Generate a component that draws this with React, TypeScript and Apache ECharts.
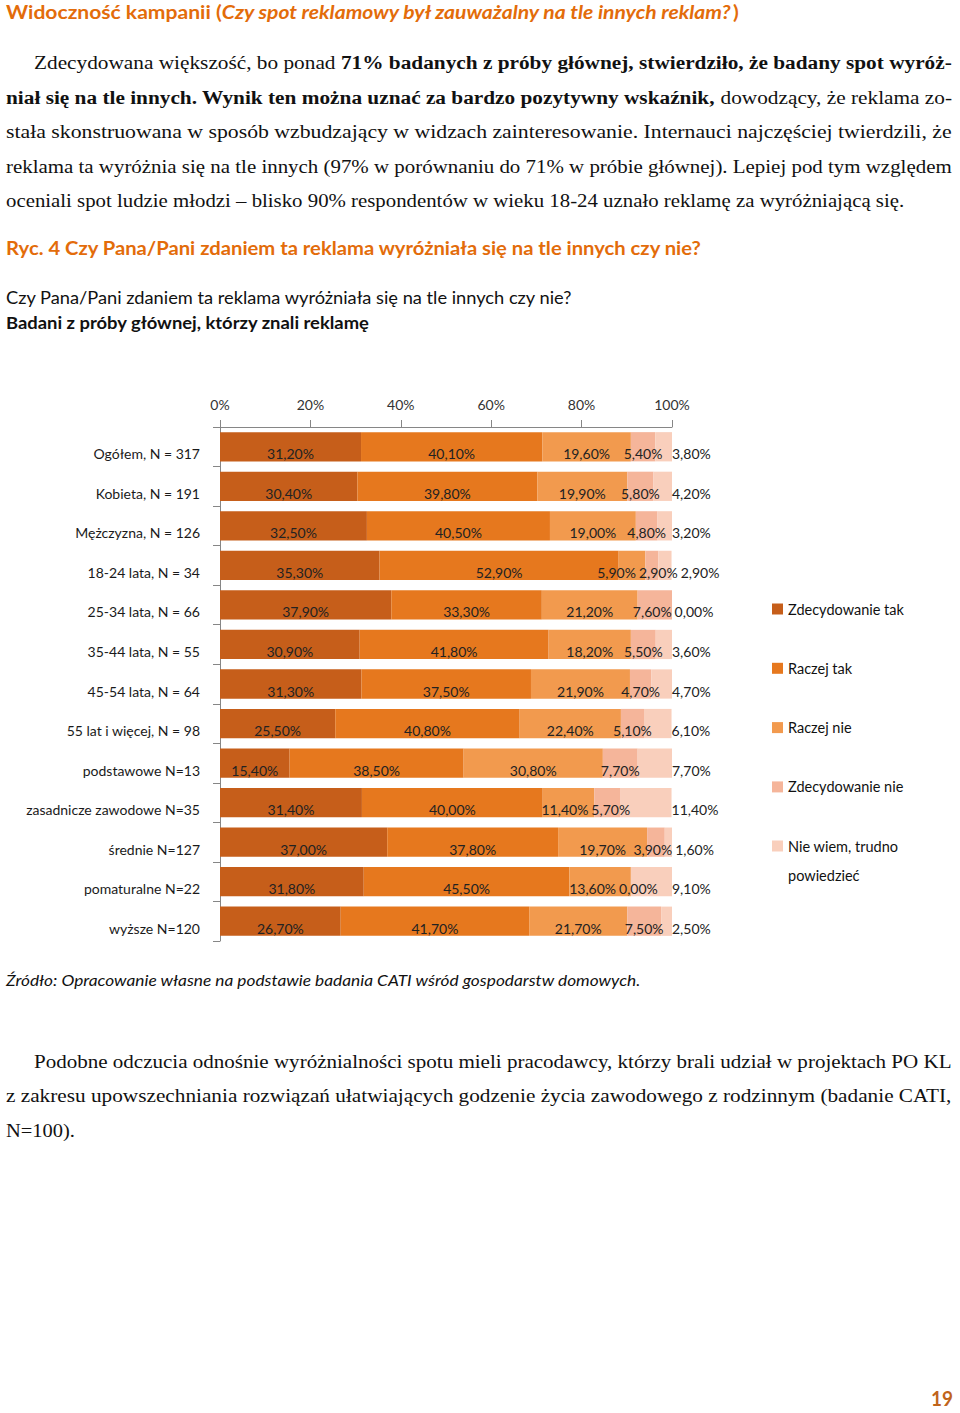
import React, { useEffect, useRef } from "react";
import * as echarts from "echarts";

// ---------- chart data ----------
const categories = [
  "Ogółem, N = 317",
  "Kobieta, N = 191",
  "Mężczyzna, N = 126",
  "18-24 lata, N = 34",
  "25-34 lata, N = 66",
  "35-44 lata, N = 55",
  "45-54 lata, N = 64",
  "55 lat i więcej, N = 98",
  "podstawowe N=13",
  "zasadnicze zawodowe N=35",
  "średnie N=127",
  "pomaturalne N=22",
  "wyższe N=120",
];
const seriesNames = [
  "Zdecydowanie tak",
  "Raczej tak",
  "Raczej nie",
  "Zdecydowanie nie",
  "Nie wiem, trudno powiedzieć",
];
const zdecydowanieTak = [31.2, 30.4, 32.5, 35.3, 37.9, 30.9, 31.3, 25.5, 15.4, 31.4, 37.0, 31.8, 26.7];
const raczejTak = [40.1, 39.8, 40.5, 52.9, 33.3, 41.8, 37.5, 40.8, 38.5, 40.0, 37.8, 45.5, 41.7];
const raczejNie = [19.6, 19.9, 19.0, 5.9, 21.2, 18.2, 21.9, 22.4, 30.8, 11.4, 19.7, 13.6, 21.7];
const zdecydowanieNie = [5.4, 5.8, 4.8, 2.9, 7.6, 5.5, 4.7, 5.1, 7.7, 5.7, 3.9, 0.0, 7.5];
const nieWiem = [3.8, 4.2, 3.2, 2.9, 0.0, 3.6, 4.7, 6.1, 7.7, 11.4, 1.6, 9.1, 2.5];
const seriesValues = [zdecydowanieTak, raczejTak, raczejNie, zdecydowanieNie, nieWiem];
const xTicks = [0, 20, 40, 60, 80, 100];

const colors = ["#C65E1A", "#E6781E", "#F29A4E", "#F5B59A", "#F9CFBC"];
const ORANGE = "#E36C0A";

// ---------- layout constants ----------
const GRID_LEFT = 220;
const GRID_TOP = 427;
const GRID_W = 452;
const GRID_H = 514;
const LABEL_DY = 7;

// ---------- text styles ----------
type Sty = { fontFamily: string; fontSize: number; fontWeight?: string; fontStyle?: string; fill: string };
const SERIF = '"Liberation Serif", serif';
const SANS = "Lato, sans-serif";
const STY: Record<string, Sty> = {
  n: { fontFamily: SERIF, fontSize: 19, fill: "#111" },
  b: { fontFamily: SERIF, fontSize: 19, fontWeight: "bold", fill: "#111" },
  tb: { fontFamily: SANS, fontSize: 18, fontWeight: "bold", fill: ORANGE },
  ti: { fontFamily: SANS, fontSize: 18, fontWeight: "bold", fontStyle: "italic", fill: ORANGE },
  q: { fontFamily: SANS, fontSize: 17, fill: "#111" },
  qb: { fontFamily: SANS, fontSize: 17, fontWeight: "bold", fill: "#111" },
  src: { fontFamily: SANS, fontSize: 16, fontStyle: "italic", fill: "#111" },
  pg: { fontFamily: SANS, fontSize: 20, fontWeight: "bold", fill: "#C0641B" },
  lbl: { fontFamily: SANS, fontSize: 14, fill: "#222" },
};

type Part = { t: string; s: string };
let ctx: CanvasRenderingContext2D | null = null;
function measure(parts: Part[]) {
  if (!ctx) ctx = document.createElement("canvas").getContext("2d");
  let w = 0;
  for (const p of parts) {
    const st = STY[p.s];
    ctx!.font = `${st.fontStyle || "normal"} ${st.fontWeight || "normal"} ${st.fontSize}px ${st.fontFamily}`;
    w += ctx!.measureText(p.t).width;
  }
  return w;
}

function textLine(x: number, y: number, right: number, parts: Part[]) {
  const natural = measure(parts);
  const target = right - x;
  const used = Array.from(new Set(parts.map((p) => p.s)));
  const rich: Record<string, any> = {};
  used.forEach((k) => (rich[k] = { ...STY[k] }));
  return {
    type: "text",
    x,
    y,
    scaleX: natural > 0 ? target / natural : 1,
    silent: true,
    style: {
      text: parts.map((p) => `{${p.s}|${p.t}}`).join(""),
      rich,
      fill: rich[used[0]].fill,
      align: "left",
      verticalAlign: "middle",
    },
  };
}

const fmt = (v: number) => v.toFixed(2).replace(".", ",") + "%";

// resolve overlapping data labels in each row (horizontal shifts in px)
function computeLabelShifts() {
  const px = GRID_W / 100;
  const GAP = 3;
  const shifts = seriesValues.map(() => categories.map(() => 0));
  categories.forEach((_, r) => {
    let cum = 0;
    const c: number[] = [];
    const w: number[] = [];
    const base: number[] = [];
    seriesValues.forEach((vals, i) => {
      const v = vals[r];
      const width = measure([{ t: fmt(v), s: "lbl" }]);
      const center =
        i < seriesValues.length - 1
          ? (cum + v / 2) * px
          : Math.min(cum + v, 100) * px + width / 2;
      cum += v;
      c.push(center);
      w.push(width);
      base.push(center);
    });
    for (let iter = 0; iter < 30; iter++) {
      for (let i = 0; i < c.length - 1; i++) {
        const o = c[i] + w[i] / 2 + GAP - (c[i + 1] - w[i + 1] / 2);
        if (o > 0) {
          c[i] -= o / 2;
          c[i + 1] += o / 2;
        }
      }
    }
    c.forEach((v, i) => (shifts[i][r] = v - base[i]));
  });
  return shifts;
}

export default function App() {
  const ref = useRef<HTMLDivElement>(null);
  useEffect(() => {
    if (!ref.current) return;
    const chart = echarts.init(ref.current, undefined, { renderer: "svg" });
    const shifts = computeLabelShifts();

    const graphic = [
      textLine(6, 12, 739, [
        { t: "Widoczność kampanii (", s: "tb" },
        { t: "Czy spot reklamowy był zauważalny na tle innych reklam?", s: "ti" },
        { t: ")", s: "tb" },
      ]),
      textLine(34, 62, 952, [
        { t: "Zdecydowana większość, bo ponad ", s: "n" },
        { t: "71% badanych z próby głównej, stwierdziło, że badany spot wyróż-", s: "b" },
      ]),
      textLine(6, 97, 952, [
        { t: "niał się na tle innych. Wynik ten można uznać za bardzo pozytywny wskaźnik,", s: "b" },
        { t: " dowodzący, że reklama zo-", s: "n" },
      ]),
      textLine(6, 131, 952, [
        { t: "stała skonstruowana w sposób wzbudzający w widzach zainteresowanie. Internauci najczęściej twierdzili, że", s: "n" },
      ]),
      textLine(6, 166, 952, [
        { t: "reklama ta wyróżnia się na tle innych (97% w porównaniu do 71% w próbie głównej). Lepiej pod tym względem", s: "n" },
      ]),
      textLine(6, 200, 905, [
        { t: "oceniali spot ludzie młodzi – blisko 90% respondentów w wieku 18-24 uznało reklamę za wyróżniającą się.", s: "n" },
      ]),
      textLine(6, 248, 703, [
        { t: "Ryc. 4 Czy Pana/Pani zdaniem ta reklama wyróżniała się na tle innych czy nie?", s: "tb" },
      ]),
      textLine(6, 298, 573, [
        { t: "Czy Pana/Pani zdaniem ta reklama wyróżniała się na tle innych czy nie?", s: "q" },
      ]),
      textLine(6, 323, 370, [{ t: "Badani z próby głównej, którzy znali reklamę", s: "qb" }]),
      textLine(6, 980, 641, [
        { t: "Źródło: Opracowanie własne na podstawie badania CATI wśród gospodarstw domowych.", s: "src" },
      ]),
      textLine(34, 1061, 952, [
        { t: "Podobne odczucia odnośnie wyróżnialności spotu mieli pracodawcy, którzy brali udział w projektach PO KL", s: "n" },
      ]),
      textLine(6, 1095, 952, [
        { t: "z zakresu upowszechniania rozwiązań ułatwiających godzenie życia zawodowego z rodzinnym (badanie CATI,", s: "n" },
      ]),
      textLine(6, 1130, 75, [{ t: "N=100).", s: "n" }]),
      textLine(931, 1398, 953, [{ t: "19", s: "pg" }]),
    ];

    const legendText = { fontFamily: SANS, fontSize: 14.5, color: "#111", lineHeight: 29 };

    chart.setOption({
      animation: false,
      backgroundColor: "#fff",
      graphic,
      legend: [
        {
          data: seriesNames.slice(0, 4),
          orient: "vertical",
          left: 772,
          top: 594.5,
          padding: 0,
          itemGap: 30.3,
          itemWidth: 11,
          itemHeight: 11,
          icon: "rect",
          selectedMode: false,
          textStyle: legendText,
        },
        {
          data: seriesNames.slice(4),
          orient: "vertical",
          left: 772,
          top: 802.5,
          padding: 0,
          itemWidth: 11,
          itemHeight: 11,
          icon: "rect",
          selectedMode: false,
          formatter: () => "\nNie wiem, trudno\npowiedzieć",
          textStyle: legendText,
        },
      ],
      grid: { left: GRID_LEFT, top: GRID_TOP, width: GRID_W, height: GRID_H, containLabel: false },
      xAxis: {
        type: "value",
        position: "top",
        min: xTicks[0],
        max: xTicks[xTicks.length - 1],
        interval: xTicks[1] - xTicks[0],
        axisLine: { show: true, lineStyle: { color: "#868686" } },
        axisTick: { show: true, length: 7, lineStyle: { color: "#868686" } },
        splitLine: { show: false },
        axisLabel: {
          margin: 16,
          formatter: "{value}%",
          fontFamily: SANS,
          fontSize: 14,
          color: "#333",
        },
      },
      yAxis: {
        type: "category",
        data: categories,
        inverse: true,
        axisLine: { show: true, lineStyle: { color: "#868686" } },
        axisTick: { show: true, length: 7, lineStyle: { color: "#868686" } },
        axisLabel: {
          margin: 20,
          verticalAlign: "top",
          lineHeight: 14,
          fontFamily: SANS,
          fontSize: 14,
          color: "#1a1a1a",
        },
      },
      series: seriesNames.map((name, i) => ({
        name,
        type: "bar",
        stack: "total",
        data: seriesValues[i],
        barCategoryGap: "26%",
        itemStyle: { color: colors[i] },
        emphasis: { disabled: true },
        label: {
          show: true,
          position: i === seriesNames.length - 1 ? "right" : "inside",
          distance: 0,
          formatter: (p: any) => fmt(p.value),
          fontFamily: SANS,
          fontSize: 14,
          color: "#222",
        },
        labelLayout: (p: any) => ({ dx: shifts[p.seriesIndex][p.dataIndex], dy: LABEL_DY }),
      })),
    });

    return () => chart.dispose();
  }, []);

  return (
    <div
      ref={ref}
      style={{ position: "absolute", left: 0, top: 0, width: 960, height: 1413, background: "#fff" }}
    />
  );
}
